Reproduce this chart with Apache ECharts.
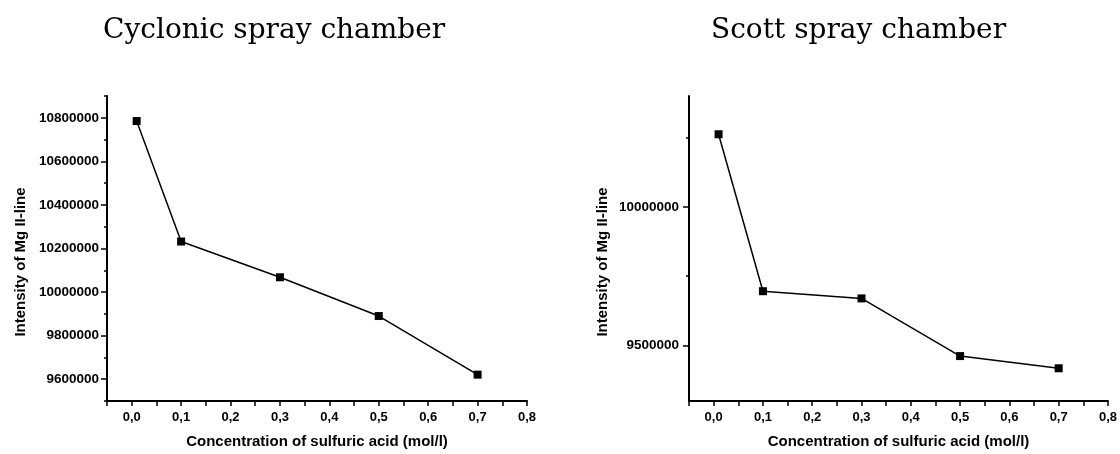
<!DOCTYPE html>
<html>
<head>
<meta charset="utf-8">
<script src="https://cdn.jsdelivr.net/npm/echarts@6/dist/echarts.min.js"></script>
<style>
  html, body { margin: 0; padding: 0; background: #fff; }
  #chart { width: 1120px; height: 454px; }
</style>
</head>
<body>
<div id="chart"></div>
<script>
// Sulfuric acid concentration (mol/l) for each measurement
const concentrations = [0.01, 0.1, 0.3, 0.5, 0.7];
// Mg II-line intensity, cyclonic spray chamber
const cyclonicIntensity = [10785000, 10232000, 10068000, 9890000, 9621000];
// Mg II-line intensity, Scott spray chamber
const scottIntensity = [10262000, 9696000, 9670000, 9462000, 9418000];

// Tick labels and tick marks
const xTickLabels = [0, 0.1, 0.2, 0.3, 0.4, 0.5, 0.6, 0.7, 0.8];
const xMinorTicks = [-0.05, 0.05, 0.15, 0.25, 0.35, 0.45, 0.55, 0.65, 0.75];
const cyclonicYLabels = [9600000, 9800000, 10000000, 10200000, 10400000, 10600000, 10800000];
const cyclonicYMinor = [9500000, 9700000, 9900000, 10100000, 10300000, 10500000, 10700000, 10900000];
const scottYLabels = [9500000, 10000000];
const scottYMinor = [9750000, 10250000];

const titles = ['Cyclonic spray chamber', 'Scott spray chamber'];
const xTitle = 'Concentration of sulfuric acid (mol/l)';
const yTitle = 'Intensity of Mg II-line';

const SANS = '"Liberation Sans", Arial, sans-serif';
const SERIF = '"DejaVu Serif", serif';

function xAxisFor(gridIndex) {
  return {
    type: 'value', gridIndex: gridIndex,
    min: -0.05, max: 0.8,
    splitLine: { show: false },
    axisLine: { show: true, onZero: false, lineStyle: { color: '#000', width: 2 } },
    axisTick: { show: true, length: 5, lineStyle: { color: '#000', width: 1.5 },
                customValues: xTickLabels.concat(xMinorTicks) },
    axisLabel: { customValues: xTickLabels, margin: 10, color: '#000',
                 fontFamily: SANS, fontWeight: 'bold', fontSize: 13,
                 formatter: v => v.toFixed(1).replace('.', ',') },
    name: xTitle, nameLocation: 'middle', nameGap: 33,
    nameTextStyle: { color: '#000', fontFamily: SANS, fontWeight: 'bold', fontSize: 15 }
  };
}

function yAxisFor(gridIndex, min, max, labels, margin) {
  return {
    type: 'value', gridIndex: gridIndex, min: min, max: max,
    splitLine: { show: false },
    axisLine: { show: true, onZero: false, lineStyle: { color: '#000', width: 2 } },
    axisTick: { show: true, length: 6, lineStyle: { color: '#000', width: 1.5 }, customValues: labels },
    axisLabel: { customValues: labels, margin: margin, color: '#000',
                 fontFamily: SANS, fontWeight: 'bold', fontSize: 13.5,
                 formatter: v => String(Math.round(v)) }
  };
}

function yMinorAxisFor(gridIndex, min, max, ticks) {
  return {
    type: 'value', gridIndex: gridIndex, min: min, max: max, position: 'left', offset: 0,
    splitLine: { show: false },
    axisLine: { show: false, onZero: false },
    axisTick: { show: true, length: 3, lineStyle: { color: '#000', width: 1.5 }, customValues: ticks },
    axisLabel: { show: false }
  };
}

function seriesFor(idx, values) {
  return {
    type: 'line', xAxisIndex: idx, yAxisIndex: idx * 2,
    data: concentrations.map((c, i) => [c, values[i]]),
    symbol: 'rect', symbolSize: 8,
    itemStyle: { color: '#000' },
    lineStyle: { color: '#000', width: 1.5 },
    animation: false
  };
}

const chart = echarts.init(document.getElementById('chart'), null, { renderer: 'canvas' });
chart.setOption({
  backgroundColor: '#fff',
  animation: false,
  title: [
    { text: titles[0], left: 98, top: 12, padding: 5,
      textStyle: { fontFamily: SERIF, fontSize: 28, fontWeight: 'normal', color: '#000' } },
    { text: titles[1], left: 706, top: 12, padding: 5,
      textStyle: { fontFamily: SERIF, fontSize: 28, fontWeight: 'normal', color: '#000' } }
  ],
  grid: [
    { left: 107, top: 96, width: 420, height: 308 },
    { left: 689, top: 96, width: 419, height: 308 }
  ],
  xAxis: [xAxisFor(0), xAxisFor(1)],
  yAxis: [
    yAxisFor(0, 9500000, 10900000, cyclonicYLabels, 8),
    yMinorAxisFor(0, 9500000, 10900000, cyclonicYMinor),
    yAxisFor(1, 9300000, 10400000, scottYLabels, 10),
    yMinorAxisFor(1, 9300000, 10400000, scottYMinor)
  ],
  series: [seriesFor(0, cyclonicIntensity), seriesFor(1, scottIntensity)],
  graphic: [
    { type: 'text', x: 21, y: 262, rotation: Math.PI / 2,
      style: { text: yTitle, font: 'bold 15px ' + SANS, fill: '#000', align: 'center', verticalAlign: 'middle' } },
    { type: 'text', x: 603, y: 262, rotation: Math.PI / 2,
      style: { text: yTitle, font: 'bold 15px ' + SANS, fill: '#000', align: 'center', verticalAlign: 'middle' } }
  ]
});
</script>
</body>
</html>
